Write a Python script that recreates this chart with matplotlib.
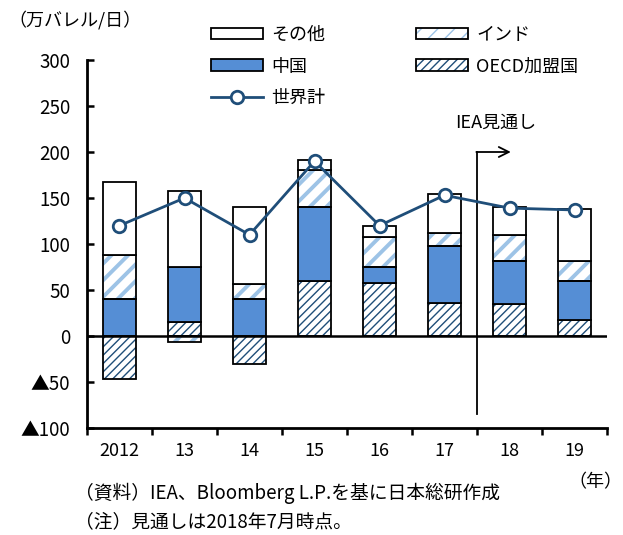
import numpy as np
import matplotlib
matplotlib.use("Agg")
import matplotlib.pyplot as plt
from matplotlib.patches import Patch
from matplotlib.lines import Line2D

plt.rcParams['font.family'] = ['Noto Sans CJK JP', 'DejaVu Sans']

years = ["2012", "13", "14", "15", "16", "17", "18", "19"]
oecd = [-47, 15, -30, 60, 58, 36, 35, 17]
china = [40, 60, 40, 80, 17, 62, 46, 43]
india = [48, -7, 16, 40, 33, 14, 29, 22]
other = [79, 83, 84, 11, 12, 42, 30, 56]
world = [120, 150, 110, 190, 120, 153, 139, 137]
yticks = [-100, -50, 0, 50, 100, 150, 200, 250, 300]
ylabels = ["▲100", "▲50", "0", "50", "100", "150", "200", "250", "300"]

sinine = "#558ED5"
hele = "#9DC3E6"
tume = "#1F4E79"

fig = plt.figure(figsize=(6.23, 5.35), dpi=100)
ax = fig.add_axes([87/623, 107/535, 520/623, 368/535])

x = np.arange(len(years))
w = 0.51
pos = np.zeros(len(years))
neg = np.zeros(len(years))


def kiht(vals, face, hatch=None, hcolor=None, hlw=1.0):
    global pos, neg
    vals = np.array(vals, dtype=float)
    alus = np.where(vals >= 0, pos, neg)
    if hatch:
        with plt.rc_context({'hatch.linewidth': hlw}):
            bb = ax.bar(x, vals, w, bottom=alus, color='white', edgecolor=hcolor,
                        hatch=hatch, linewidth=0, zorder=2)
        for b in bb:
            if hasattr(b, "set_hatch_linewidth"):
                b.set_hatch_linewidth(hlw)
        ax.bar(x, vals, w, bottom=alus, facecolor='none', edgecolor='black',
               linewidth=1.3, zorder=3)
    else:
        ax.bar(x, vals, w, bottom=alus, facecolor=face, edgecolor='black',
               linewidth=1.3, zorder=3)
    pos = pos + np.where(vals >= 0, vals, 0)
    neg = neg + np.where(vals < 0, vals, 0)


kiht(oecd, 'white', '////', tume, 1.0)
kiht(china, sinine)
kiht(india, 'white', '//', hele, 2.8)
kiht(other, 'white')

ax.axhline(0, color='black', lw=1.8, zorder=4)
ax.plot(x, world, color=tume, lw=2, marker='o', ms=9, mfc='white', mec=tume,
        mew=2, zorder=6)

# IEA forecast marker
ax.plot([5.5, 5.5], [-85, 200], color='black', lw=1.3, zorder=5)
ax.annotate('', xy=(6.02, 200), xytext=(5.49, 200),
            arrowprops=dict(arrowstyle='->', lw=1.3, color='black',
                            mutation_scale=18, shrinkA=0, shrinkB=0), zorder=5)
ax.text(5.78, 232, "IEA見通し", ha='center', va='center', fontsize=13)

ax.set_xlim(-0.5, 7.5)
ax.set_ylim(-100, 300)
ax.set_yticks(yticks)
ax.set_yticklabels(ylabels)
ax.set_xticks(x)
ax.set_xticklabels(years)
ax.set_xticks(np.arange(-0.5, 8, 1), minor=True)
ax.tick_params(axis='x', which='major', length=0, pad=10, labelsize=13)
ax.tick_params(axis='x', which='minor', direction='out', length=5, width=1.8)
ax.tick_params(axis='y', direction='in', length=5, width=1.8, pad=12, labelsize=13.5)
for s in ['top', 'right']:
    ax.spines[s].set_visible(False)
for s in ['left', 'bottom']:
    ax.spines[s].set_linewidth(2)

h_muu = Patch(facecolor='white', edgecolor='black', linewidth=1.3)
h_hiina = Patch(facecolor=sinine, edgecolor='black', linewidth=1.3)
h_maailm = Line2D([], [], color=tume, lw=2, marker='o', ms=9, mfc='white', mec=tume, mew=2)
h_india = (Patch(facecolor='white', edgecolor=hele, hatch='//', linewidth=0),
           Patch(facecolor='none', edgecolor='black', linewidth=1.3))
h_oecd = (Patch(facecolor='white', edgecolor=tume, hatch='////', linewidth=0),
          Patch(facecolor='none', edgecolor='black', linewidth=1.3))
leg = fig.legend([h_muu, h_hiina, h_maailm, h_india, h_oecd],
                 ["その他", "中国", "世界計", "インド", "OECD加盟国"],
                 ncol=2, loc='upper left', bbox_to_anchor=(211/623, 1 - 26/535),
                 frameon=False, fontsize=13, handlelength=2.9, handleheight=0.6,
                 handletextpad=0.45, labelspacing=0.75, columnspacing=5.0,
                 borderpad=0, borderaxespad=0)

fig.text(8/623, 1 - 20/535, "（万バレル/日）", ha='left', va='center', fontsize=13)
fig.text(622/623, 1 - 482/535, "（年）", ha='right', va='center', fontsize=13)
fig.text(75/623, 1 - 493/535, "（資料）IEA、Bloomberg L.P.を基に日本総研作成",
         ha='left', va='center', fontsize=13.5)
fig.text(75/623, 1 - 522/535, "（注）見通しは2018年7月時点。",
         ha='left', va='center', fontsize=13.5)

fig.savefig("out.png", dpi=100)
